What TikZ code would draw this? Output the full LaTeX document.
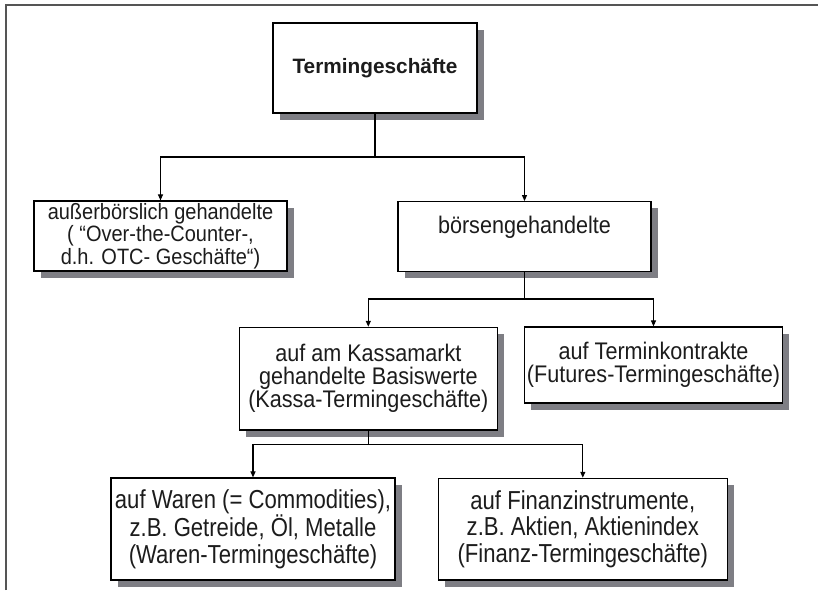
\documentclass[tikz,border=0pt]{standalone}
\usepackage{fontspec}
\setmainfont{Liberation Sans}
\newfontfamily\narrowsans[FakeStretch=0.9]{Liberation Sans}
\newfontfamily\leafsans[FakeStretch=0.85]{Liberation Sans}
\usetikzlibrary{shadows,arrows.meta}
\definecolor{shadowgray}{RGB}{126,126,132}
\definecolor{inkgray}{RGB}{28,28,28}
\definecolor{framegray}{RGB}{85,85,85}
\begin{document}
\begin{tikzpicture}[x=1pt,y=-1pt,
  box/.style={draw=black, line width=1.2pt, fill=white, align=center,
    inner sep=0pt, text=inkgray, font=\narrowsans\fontsize{24}{23}\selectfont,
    drop shadow={shadow xshift=6.5pt, shadow yshift=-6.5pt,
      fill=shadowgray, opacity=1}},
  leafbox/.style={box, font=\leafsans\fontsize{26}{26.5}\selectfont},
  link/.style={line width=1.1pt, draw=black},
  arr/.style={link, -{Triangle[length=6pt,width=5pt]}}]
\useasboundingbox (0,0) rectangle (818,590);

% page frame (left and top edges)
\draw[framegray, line width=1.6pt] (6,590) -- (6,5) -- (818,5);

% boxes
\node[box, minimum width=204pt, minimum height=90pt,
  font=\bfseries\fontsize{20.8}{22}\selectfont] (top) at (375,68) {Termingeschäfte};
\node[box, minimum width=253pt, minimum height=70pt,
  font=\narrowsans\fontsize{22.2}{22.5}\selectfont] (otc) at (160.5,236)
  {außerbörslich gehandelte\\( “Over-the-Counter-,\\d.h. OTC- Geschäfte“)};
\node[box, minimum width=253pt, minimum height=69.5pt] (boerse) at (524.5,236.4)
  {börsengehandelte\\\mbox{}};
\node[box, minimum width=258pt, minimum height=102.7pt] (kassa) at (368.3,378.7)
  {auf am Kassamarkt\\gehandelte Basiswerte\\(Kassa-Termingeschäfte)};
\node[box, minimum width=258pt, minimum height=76pt] (termink) at (653.5,365)
  {auf Terminkontrakte\\(Futures-Termingeschäfte)};
\node[leafbox, minimum width=284pt, minimum height=102pt] (waren) at (253,529)
  {auf Waren (= Commodities),\\z.B. Getreide, Öl, Metalle\\(Waren-Termingeschäfte)};
\node[leafbox, minimum width=289pt, minimum height=101.7pt] (finanz) at (582.8,529.2)
  {auf Finanzinstrumente,\\z.B. Aktien, Aktienindex\\(Finanz-Termingeschäfte)};

% connectors
\coordinate (j1) at (375,157);
\draw[link] (top.south) -- (j1);
\draw[arr] (j1) -| (otc.north);
\draw[arr] (j1) -| (boerse.north);

\coordinate (j2) at (524.5,299);
\draw[link] (boerse.south) -- (j2);
\draw[arr] (j2) -| (kassa.north);
\draw[arr] (j2) -| (termink.north);

\coordinate (j3) at (368.3,444.3);
\draw[link] (kassa.south) -- (j3);
\draw[arr] (j3) -| (waren.north);
\draw[arr] (j3) -| (finanz.north);
\end{tikzpicture}
\end{document}
